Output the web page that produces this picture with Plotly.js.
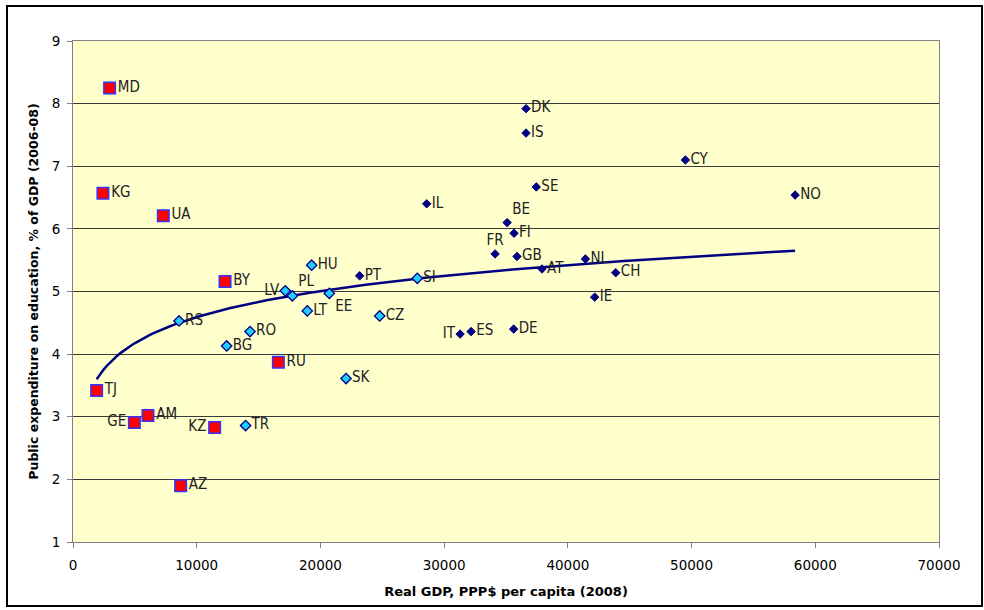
<!DOCTYPE html>
<html>
<head>
<meta charset="utf-8">
<script src="https://cdn.plot.ly/plotly-3.0.1.min.js"></script>
<style>
  html, body { margin: 0; padding: 0; background: #fff; }
  #wrap { position: relative; width: 984px; height: 610px; }
  #chart { position: absolute; left: 0; top: 0; width: 984px; height: 610px; }
  #frame { position: absolute; left: 6px; top: 5px; width: 973px; height: 598px; border: 2px solid #000; pointer-events: none; }
</style>
</head>
<body>
<div id="wrap">
  <div id="chart"></div>
  <div id="frame"></div>
</div>
<script>
// Transition countries (red squares)
const cisCodes = ["MD", "KG", "UA", "BY", "RU", "TJ", "GE", "AM", "KZ", "AZ"];
const cisGdp   = [2960, 2420, 7300, 12290, 16600, 1910, 4960, 6060, 11450, 8700];
const cisEdu   = [8.25, 6.57, 6.21, 5.16, 3.87, 3.42, 2.91, 3.02, 2.83, 1.90];

// Central / Eastern Europe & Turkey (cyan diamonds)
const ceeCodes = ["HU", "LV", "PL", "LT", "EE", "SI", "CZ", "RS", "RO", "BG", "SK", "TR"];
const ceeGdp   = [19290, 17160, 17730, 18940, 20720, 27830, 24790, 8570, 14310, 12420, 22070, 13950];
const ceeEdu   = [5.42, 5.01, 4.93, 4.69, 4.97, 5.21, 4.61, 4.53, 4.36, 4.13, 3.61, 2.86];

// Western Europe & others (navy diamonds)
const weCodes = ["DK", "IS", "SE", "IL", "BE", "FI", "FR", "GB", "AT", "NL", "CH", "IE", "IT", "ES", "DE", "PT", "CY", "NO"];
const weGdp   = [36620, 36620, 37450, 28590, 35090, 35650, 34120, 35890, 37910, 41420, 43870, 42170, 31290, 32180, 35620, 23170, 49500, 58370];
const weEdu   = [7.92, 7.53, 6.67, 6.40, 6.10, 5.93, 5.60, 5.56, 5.36, 5.52, 5.30, 4.91, 4.32, 4.36, 4.40, 5.25, 7.10, 6.54];

// Logarithmic trendline y = a*ln(x) + b, coefficients
const trendA = 0.60;
const trendB = -0.935;

// label placement exceptions (default: middle right)
const labelPos = { GE: "middle left", KZ: "middle left", LV: "middle left", IT: "middle left",
                   FR: "top center", PL: "top right", EE: "bottom right", BE: "top right" };

const allX = cisGdp.concat(ceeGdp, weGdp);
const xMin = Math.min(...allX), xMax = Math.max(...allX);
const trendX = [], trendY = [];
for (let i = 0; i <= 200; i++) {
  const x = xMin + (xMax - xMin) * i / 200;
  trendX.push(x);
  trendY.push(trendA * Math.log(x) + trendB);
}

const labelFont = { family: "'Liberation Sans Narrow', 'Arial Narrow', 'DejaVu Sans Condensed', sans-serif", size: 15, color: "#222" };
const pos = codes => codes.map(c => labelPos[c] || "middle right");

const traces = [
  {
    x: trendX, y: trendY, mode: "lines", type: "scatter",
    line: { color: "#000080", width: 2.5 }, hoverinfo: "skip"
  },
  {
    x: weGdp, y: weEdu, text: weCodes, mode: "markers+text", type: "scatter",
    textposition: pos(weCodes), textfont: labelFont, cliponaxis: false,
    marker: { symbol: "diamond", size: 6.5, color: "#000080", line: { color: "#000080", width: 1 } }
  },
  {
    x: ceeGdp, y: ceeEdu, text: ceeCodes, mode: "markers+text", type: "scatter",
    textposition: pos(ceeCodes), textfont: labelFont, cliponaxis: false,
    marker: { symbol: "diamond", size: 8, color: "#22CCFF", line: { color: "#000080", width: 1.3 } }
  },
  {
    x: cisGdp, y: cisEdu, text: cisCodes, mode: "markers+text", type: "scatter",
    textposition: pos(cisCodes), textfont: labelFont, cliponaxis: false,
    marker: { symbol: "square", size: 11.5, color: "#FF0000", line: { color: "#3333FF", width: 1.5 } }
  }
];

const tickFont = { family: "'DejaVu Sans', sans-serif", size: 13.5, color: "#000" };
const titleFontX = { family: "'DejaVu Sans', sans-serif", size: 13, color: "#000", weight: "bold" };
const titleFontY = { family: "'DejaVu Sans', sans-serif", size: 12.5, color: "#000", weight: "bold" };

const layout = {
  width: 984, height: 610,
  margin: { l: 73, r: 45, t: 41, b: 68 },
  paper_bgcolor: "#FFFFFF",
  plot_bgcolor: "#FFFFCC",
  showlegend: false,
  xaxis: {
    range: [0, 70000], dtick: 10000, tick0: 0, tickformat: "d",
    showgrid: false, zeroline: false,
    showline: true, linecolor: "#808080", linewidth: 1, mirror: true,
    ticks: "outside", ticklen: 5, tickcolor: "#808080",
    ticklabelstandoff: 6,
    tickfont: tickFont,
    title: { text: "<b>Real GDP, PPP$ per capita (2008)</b>", font: titleFontX, standoff: 14 }
  },
  yaxis: {
    range: [1, 9], dtick: 1, tick0: 1,
    showgrid: true, gridcolor: "#3a3a3a", gridwidth: 1,
    zeroline: false,
    showline: true, linecolor: "#808080", linewidth: 1, mirror: true,
    ticks: "outside", ticklen: 5, tickcolor: "#808080",
    ticklabelstandoff: 4,
    tickfont: tickFont,
    title: { text: "<b>Public expenditure on education, % of GDP (2006-08)</b>", font: titleFontY, standoff: 10 }
  }
};

Plotly.newPlot("chart", traces, layout, { displayModeBar: false, staticPlot: true });
</script>
</body>
</html>
